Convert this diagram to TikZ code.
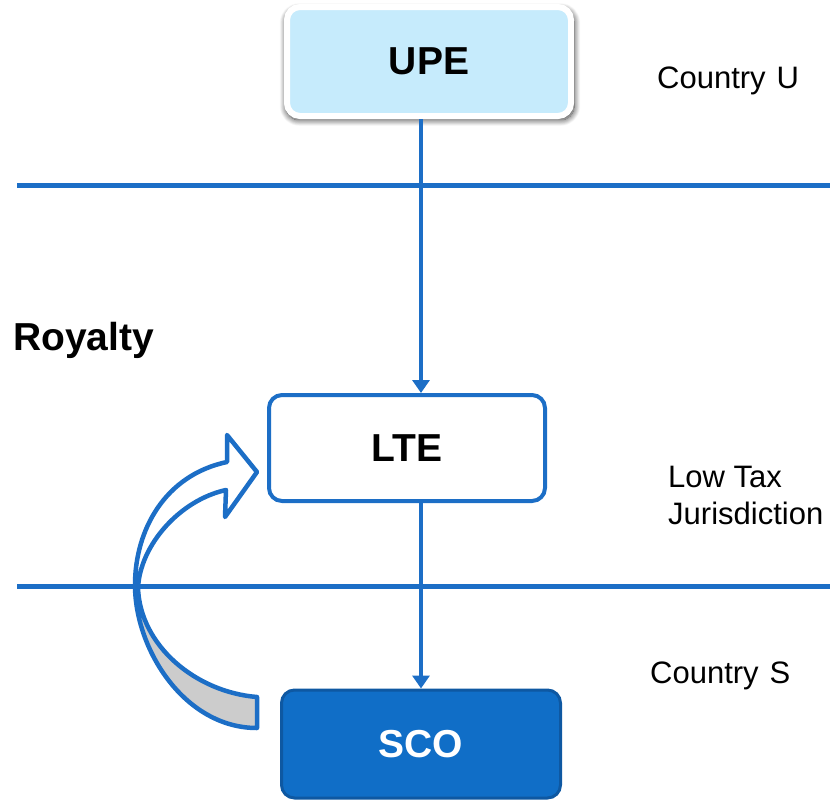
\documentclass[tikz,border=0pt]{standalone}
\usepackage{fontspec}
\setmainfont{Liberation Sans}
\usetikzlibrary{arrows.meta,shadows.blur}

\definecolor{lineblue}{RGB}{28,110,198}
\definecolor{paleblue}{RGB}{198,235,252}
\definecolor{deepblue}{RGB}{16,110,199}
\definecolor{deepedge}{RGB}{14,88,162}
\definecolor{undergrey}{RGB}{204,204,204}

\tikzset{
  entity/.style={rounded corners=13pt, inner sep=0pt, font=\bfseries\fontsize{39}{44}\selectfont},
  topbox/.style={entity, fill=paleblue, draw=white, line width=6pt,
    blur shadow={shadow xshift=1pt, shadow yshift=-3pt, shadow scale=1.015,
      shadow blur radius=6pt, shadow blur steps=14, shadow opacity=80}},
  midbox/.style={entity, fill=white, draw=lineblue, line width=4pt},
  lowbox/.style={entity, fill=deepblue, draw=deepedge, line width=3pt, text=white},
  border/.style={draw=lineblue, line width=5pt},
  flow/.style={draw=lineblue, line width=3.8pt, -{Triangle[width=17pt,length=13pt]}},
  place/.style={anchor=base west, inner sep=0pt, font=\fontsize{31}{37}\selectfont},
  caption/.style={anchor=base west, inner sep=0pt, font=\bfseries\fontsize{39}{46}\selectfont},
  curvedarrow/.style={draw=lineblue, line width=4.5pt, line join=round}
}

\begin{document}
\begin{tikzpicture}[x=1pt, y=-1pt]
  \useasboundingbox (0,0) rectangle (830,801);

  % jurisdiction boundaries
  \coordinate (b1l) at (17,185);
  \coordinate (b1r) at (830,185);
  \coordinate (b2l) at (17,586);
  \coordinate (b2r) at (830,586);
  \draw[border] (b1l) -- (b1r);
  \draw[border] (b2l) -- (b2r);

  % entities
  \node[topbox, minimum width=284pt, minimum height=109pt] (upe) at (429,61.5) {UPE};
  \node[midbox, minimum width=276pt, minimum height=106pt] (lte) at (407,448) {LTE};
  \node[lowbox, minimum width=279pt, minimum height=108pt] (sco) at (421,744) {SCO};

  % ownership chain
  \draw[flow] (upe.south -| sco.north) -- (lte.north -| sco.north);
  \draw[flow] (lte.south -| sco.north) -- (sco.north);

  % labels
  \node[place] (cu) at (657,88) {Country\hspace{11pt}U};
  \node[place] (lt1) at (668,487) {Low Tax};
  \node[place] (lt2) at (668,524) {Jurisdiction};
  \node[place] (cs) at (650,683) {Country\hspace{11pt}S};
  \node[caption] (roy) at (13,350) {Royalty};

  % curved royalty arrow from SCO back to LTE
  \coordinate (tailtop) at (257,697);
  \coordinate (tailbot) at (257,728);
  \coordinate (pinchin) at (138,588);
  \coordinate (pinchout) at (135,585);
  \coordinate (shaftlo) at (226,490);
  \coordinate (barblo) at (225,517);
  \coordinate (tip) at (257,472);
  \coordinate (barbhi) at (227,435);
  \coordinate (shafthi) at (227,462);

  \fill[white] (tailtop) .. controls (195,692) and (140,645) .. (pinchin)
    .. controls (140,545) and (180,500) .. (shaftlo)
    -- (barblo) -- (tip) -- (barbhi) -- (shafthi)
    .. controls (165,475) and (135,530) .. (pinchout)
    .. controls (135,650) and (185,728) .. (tailbot) -- cycle;
  \fill[undergrey] (pinchout) .. controls (135,650) and (185,728) .. (tailbot)
    -- (tailtop) .. controls (195,692) and (140,645) .. (pinchin) -- cycle;
  \draw[curvedarrow] (tailtop) .. controls (195,692) and (140,645) .. (pinchin)
    .. controls (140,545) and (180,500) .. (shaftlo)
    -- (barblo) -- (tip) -- (barbhi) -- (shafthi)
    .. controls (165,475) and (135,530) .. (pinchout)
    .. controls (135,650) and (185,728) .. (tailbot) -- cycle;
\end{tikzpicture}
\end{document}
